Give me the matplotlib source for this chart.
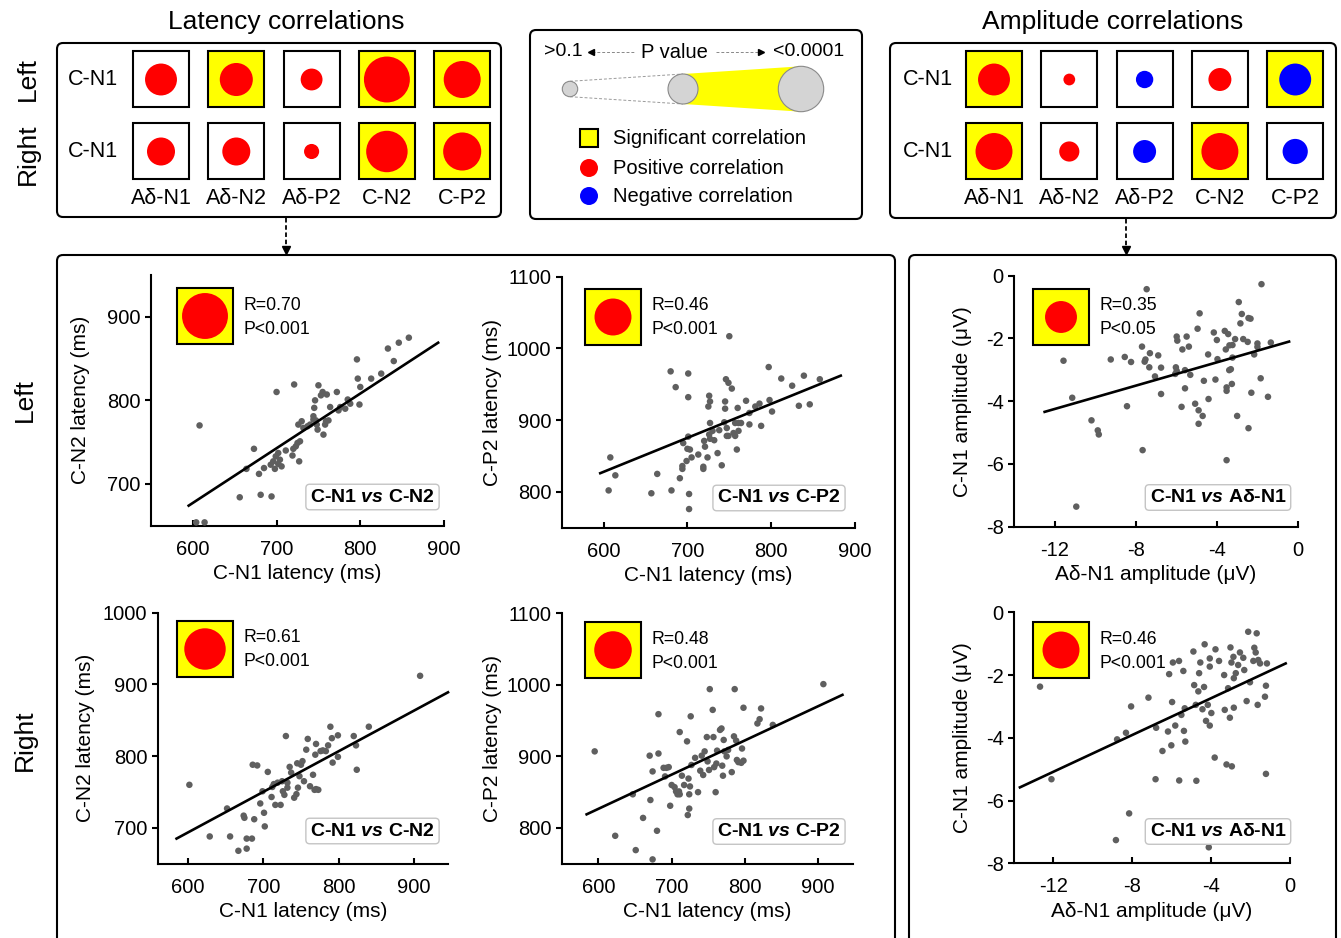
import numpy as np
import matplotlib
matplotlib.use('Agg')
import matplotlib.pyplot as plt
from matplotlib.patches import FancyBboxPatch, Rectangle, Circle, Polygon

plt.rcParams['font.family'] = ['Liberation Sans', 'DejaVu Sans']
plt.rcParams['mathtext.fontset'] = 'custom'
plt.rcParams['mathtext.it'] = 'Liberation Sans:italic:bold'
plt.rcParams['mathtext.rm'] = 'Liberation Sans:bold'
plt.rcParams['mathtext.bf'] = 'Liberation Sans:bold'
plt.rcParams['axes.unicode_minus'] = False

# ---------------- summary matrices (circle size ~ significance, relative to square) --------
components = ['Aδ-N1', 'Aδ-N2', 'Aδ-P2', 'C-N2', 'C-P2']
row_labels = ['C-N1', 'C-N1']
side_labels = ['Left', 'Right']
lat_size = [[0.57, 0.59, 0.39, 0.82, 0.66],
            [0.50, 0.50, 0.27, 0.74, 0.68]]
lat_sig = [[0, 1, 0, 1, 1],
           [0, 0, 0, 1, 1]]
lat_sign = [[1, 1, 1, 1, 1],
            [1, 1, 1, 1, 1]]
amp_size = [[0.57, 0.21, 0.31, 0.41, 0.57],
            [0.66, 0.36, 0.41, 0.66, 0.45]]
amp_sig = [[1, 0, 0, 0, 1],
           [1, 0, 0, 1, 0]]
amp_sign = [[1, 1, -1, 1, -1],
            [1, 1, -1, 1, -1]]

# ---------------- scatter data ----------------
# Left: C-N1 vs C-N2 latency
l_n2_x = [608, 604, 614, 656, 681, 694, 664, 673, 679, 685, 700, 721, 693, 696, 699, 702, 704, 706, 698, 702,
          711, 719, 720, 723, 725, 728, 727, 726, 730, 732, 737, 740, 744, 745, 746, 744, 747, 748, 749, 750,
          753, 755, 756, 758, 759, 760, 762, 764, 772, 774, 776, 782, 785, 788, 796, 797, 799, 800, 813, 825,
          833, 840, 846, 858]
l_n2_y = [770, 654, 654, 684, 687, 685, 718, 742, 712, 719, 810, 819, 723, 727, 733, 724, 729, 721, 718, 737,
          740, 734, 742, 745, 749, 751, 727, 771, 775, 767, 769, 771, 781, 791, 800, 777, 776, 771, 765, 818,
          806, 810, 759, 771, 775, 807, 776, 792, 810, 788, 792, 790, 801, 796, 849, 826, 795, 816, 826, 832,
          862, 847, 869, 875]
# Left: C-N1 vs C-P2 latency
l_p2_x = [608, 614, 606, 657, 664, 681, 691, 680, 686, 701, 701, 702, 702, 695, 694, 694, 701, 700, 703, 699,
          705, 713, 720, 721, 719, 719, 724, 725, 726, 727, 727, 726, 727, 730, 732, 736, 741, 738, 745, 745,
          744, 746, 749, 753, 750, 747, 747, 749, 755, 757, 757, 760, 761, 759, 761, 764, 770, 774, 774, 781,
          786, 788, 798, 797, 801, 812, 825, 833, 839, 846, 858]
l_p2_y = [848, 823, 802, 798, 825, 802, 819, 968, 946, 965, 932, 797, 776, 868, 836, 832, 877, 860, 859, 843,
          848, 852, 871, 863, 835, 832, 848, 919, 934, 926, 896, 880, 874, 885, 872, 854, 837, 886, 926, 916,
          897, 957, 952, 944, 1017, 889, 878, 878, 882, 878, 896, 917, 885, 859, 896, 896, 927, 894, 910, 919,
          923, 892, 928, 974, 912, 958, 948, 920, 962, 922, 957]
# Left: Ad-N1 vs C-N1 amplitude
l_amp_x = [-11.56, -11.13, -10.93, -10.18, -9.87, -9.82, -9.23, -8.54, -8.43, -8.23, -7.69, -7.46, -7.52, -7.56,
           -7.66, -7.33, -7.30, -7.05, -6.89, -6.75, -6.75, -5.98, -5.95, -6.02, -5.98, -6.05, -5.74, -5.70,
           -5.57, -5.49, -5.38, -5.31, -5.57, -5.07, -4.95, -4.85, -4.90, -4.90, -4.70, -4.64, -4.43, -4.41,
           -4.15, -4.07, -4.00, -3.97, -3.61, -3.56, -3.52, -3.52, -3.52, -3.44, -3.38, -3.39, -3.31, -3.26,
           -3.23, -3.23, -3.10, -3.00, -2.92, -2.84, -2.77, -2.70, -2.44, -2.48, -2.44, -2.34, -2.30, -2.16,
           -2.00, -2.00, -1.84, -1.80, -1.48, -1.34]
l_amp_y = [-2.71, -3.89, -7.36, -4.61, -4.93, -5.06, -2.67, -2.59, -4.16, -2.75, -2.26, -0.43, -2.67, -2.74,
           -5.56, -2.92, -2.47, -3.21, -2.54, -2.93, -3.77, -1.94, -2.07, -2.92, -3.03, -3.13, -4.18, -2.35,
           -3.59, -1.94, -2.26, -3.16, -3.01, -4.08, -1.69, -1.20, -4.29, -4.72, -4.47, -3.35, -2.51, -3.93,
           -1.81, -3.31, -2.05, -2.66, -1.76, -2.35, -3.56, -3.67, -5.88, -1.86, -2.22, -3.01, -2.98, -3.45,
           -2.21, -2.61, -2.02, -4.47, -0.84, -1.52, -1.22, -2.02, -1.35, -2.11, -4.86, -1.37, -3.73, -2.51,
           -2.27, -2.16, -3.27, -0.27, -3.86, -2.13]
# Right: C-N1 vs C-N2 latency
r_n2_x = [602, 629, 652, 656, 667, 678, 678, 685, 674, 675, 688, 686, 692, 696, 699, 701, 702, 706, 711, 712,
          714, 716, 719, 723, 725, 726, 728, 730, 732, 732, 735, 737, 741, 744, 745, 746, 748, 750, 752, 754,
          757, 759, 762, 766, 768, 770, 773, 769, 770, 776, 779, 783, 786, 789, 791, 792, 799, 799, 820, 823,
          824, 840, 908]
r_n2_y = [760, 688, 727, 688, 668, 671, 685, 685, 717, 714, 712, 788, 787, 734, 751, 721, 702, 778, 743, 757,
          761, 732, 763, 732, 765, 751, 746, 828, 756, 763, 785, 777, 742, 747, 790, 756, 772, 788, 793, 765,
          809, 824, 758, 774, 753, 754, 753, 802, 817, 807, 808, 807, 815, 841, 825, 791, 829, 799, 828, 815,
          781, 841, 912]
# Right: C-N1 vs C-P2 latency
r_p2_x = [595, 623, 647, 651, 661, 670, 671, 674, 674, 680, 682, 682, 689, 691, 693, 696, 698, 700, 704, 706,
          708, 710, 711, 711, 714, 717, 721, 722, 724, 723, 724, 725, 726, 727, 732, 736, 739, 741, 743, 745,
          748, 749, 751, 752, 756, 757, 758, 760, 761, 762, 766, 768, 769, 770, 771, 772, 775, 777, 782, 785,
          786, 788, 789, 791, 795, 796, 798, 798, 817, 820, 822, 838, 907]
r_p2_y = [907, 789, 847, 769, 814, 901, 839, 756, 879, 796, 959, 904, 884, 872, 884, 885, 831, 860, 857, 851,
          847, 851, 847, 934, 873, 860, 921, 818, 827, 869, 847, 858, 956, 888, 898, 850, 880, 901, 874, 907,
          927, 893, 881, 994, 965, 927, 885, 850, 890, 908, 937, 939, 887, 873, 923, 907, 900, 909, 878, 928,
          994, 922, 895, 892, 891, 911, 894, 968, 946, 952, 967, 944, 1001]
# Right: Ad-N1 vs C-N1 amplitude
r_amp_x = [-12.68, -12.10, -8.83, -8.77, -8.32, -8.16, -8.06, -7.18, -6.79, -6.82, -6.47, -6.19, -6.13, -6.02,
           -5.98, -5.94, -5.82, -5.63, -5.62, -5.51, -5.41, -5.38, -5.31, -5.34, -4.90, -4.86, -4.78, -4.75,
           -4.65, -4.61, -4.55, -4.44, -4.36, -4.33, -4.26, -4.17, -4.07, -4.07, -4.07, -3.99, -3.82, -3.78,
           -3.60, -3.34, -3.31, -3.22, -3.14, -3.05, -3.02, -2.97, -2.95, -2.87, -2.85, -2.85, -2.75, -2.63,
           -2.54, -2.37, -2.32, -2.20, -2.12, -2.03, -1.86, -1.81, -1.74, -1.69, -1.64, -1.61, -1.52, -1.27,
           -1.22, -1.17, -1.22, -4.12]
r_amp_y = [-2.37, -5.32, -7.26, -4.05, -3.84, -6.41, -3.00, -2.72, -3.68, -5.32, -4.42, -3.80, -1.97, -4.24,
           -2.86, -1.60, -3.61, -1.55, -5.36, -3.27, -1.87, -3.78, -4.12, -3.06, -1.25, -2.32, -2.95, -5.37,
           -2.52, -1.94, -1.60, -3.09, -2.38, -1.02, -3.46, -2.95, -3.61, -1.73, -1.47, -3.21, -4.63, -1.18,
           -1.55, -2.00, -3.11, -4.85, -2.42, -3.36, -1.12, -1.60, -4.91, -1.42, -3.04, -2.10, -1.94, -1.68,
           -1.28, -1.45, -1.84, -2.83, -0.62, -2.23, -1.55, -1.13, -1.28, -0.67, -2.95, -1.52, -1.63, -2.69,
           -2.34, -1.63, -5.15, -7.49]

# regression lines (x0, y0, x1, y1)
fit_l_n2 = [595, 674, 893, 869]
fit_l_p2 = [596, 826, 883, 962]
fit_l_amp = [-12.49, -4.34, -0.44, -2.10]
fit_r_n2 = [585, 685, 945, 889]
fit_r_p2 = [584, 819, 933, 986]
fit_r_amp = [-13.70, -5.58, -0.22, -1.63]

r_values = ['R=0.70', 'R=0.46', 'R=0.35', 'R=0.61', 'R=0.48', 'R=0.46']
p_values = ['P<0.001', 'P<0.001', 'P<0.05', 'P<0.001', 'P<0.001', 'P<0.001']
inset_size = [0.82, 0.66, 0.57, 0.74, 0.67, 0.66]
pair_labels = [r'C-N1 $vs$ C-N2', r'C-N1 $vs$ C-P2', r'C-N1 $vs$ Aδ-N1',
               r'C-N1 $vs$ C-N2', r'C-N1 $vs$ C-P2', r'C-N1 $vs$ Aδ-N1']

# ---------------- figure ----------------
W, H = 1341, 938
fig = plt.figure(figsize=(W / 100, H / 100), dpi=100)
fig.patch.set_facecolor('white')

RED = '#ff0000'
BLUE = '#0000ff'
YEL = '#ffff00'
GRAY = '#5f5f5f'


def px_axes(x0, y0, x1, y1):
    return fig.add_axes([x0 / W, 1 - y1 / H, (x1 - x0) / W, (y1 - y0) / H])


panels = [
    dict(rect=(151, 275, 444, 525.7), xlim=(550, 900), ylim=(650, 950),
         xt=[600, 700, 800, 900], yt=[700, 800, 900], x=l_n2_x, y=l_n2_y, fit=fit_l_n2,
         xl='C-N1 latency (ms)', yl='C-N2 latency (ms)', ylx=81, inset=(177, 288), lab=(372.5, 497)),
    dict(rect=(561.7, 276.7, 855, 527.7), xlim=(550, 900), ylim=(750, 1100),
         xt=[600, 700, 800, 900], yt=[800, 900, 1000, 1100], x=l_p2_x, y=l_p2_y, fit=fit_l_p2,
         xl='C-N1 latency (ms)', yl='C-P2 latency (ms)', ylx=493, inset=(585, 289), lab=(779, 498)),
    dict(rect=(1014, 275.7, 1298, 526.7), xlim=(-14, 0), ylim=(-8, 0),
         xt=[-12, -8, -4, 0], yt=[-8, -6, -4, -2, 0], x=l_amp_x, y=l_amp_y, fit=fit_l_amp,
         xl='Aδ-N1 amplitude (μV)', yl='C-N1 amplitude (μV)', ylx=963, inset=(1033, 289), lab=(1218, 497.5)),
    dict(rect=(157.7, 612.7, 448, 863.7), xlim=(560, 945), ylim=(650, 1000),
         xt=[600, 700, 800, 900], yt=[700, 800, 900, 1000], x=r_n2_x, y=r_n2_y, fit=fit_r_n2,
         xl='C-N1 latency (ms)', yl='C-N2 latency (ms)', ylx=86, inset=(177, 621), lab=(372.5, 831)),
    dict(rect=(561.7, 613.3, 852.7, 863.7), xlim=(550, 947), ylim=(750, 1100),
         xt=[600, 700, 800, 900], yt=[800, 900, 1000, 1100], x=r_p2_x, y=r_p2_y, fit=fit_r_p2,
         xl='C-N1 latency (ms)', yl='C-P2 latency (ms)', ylx=493, inset=(585, 622), lab=(779, 831.5)),
    dict(rect=(1014, 612.3, 1290, 863.3), xlim=(-14, 0), ylim=(-8, 0),
         xt=[-12, -8, -4, 0], yt=[-8, -6, -4, -2, 0], x=r_amp_x, y=r_amp_y, fit=fit_r_amp,
         xl='Aδ-N1 amplitude (μV)', yl='C-N1 amplitude (μV)', ylx=963, inset=(1033, 622), lab=(1218, 831.5)),
]

for i, p in enumerate(panels):
    ax = px_axes(*p['rect'])
    ax.set_facecolor('none')
    ax.scatter(p['x'], p['y'], s=22, color=GRAY, edgecolors='none', zorder=3, clip_on=False)
    f = p['fit']
    ax.plot([f[0], f[2]], [f[1], f[3]], color='black', lw=1.9, zorder=4, clip_on=False)
    ax.set_xlim(*p['xlim'])
    ax.set_ylim(*p['ylim'])
    ax.set_xticks(p['xt'])
    ax.set_yticks(p['yt'])
    for s in ['top', 'right']:
        ax.spines[s].set_visible(False)
    for s in ['left', 'bottom']:
        ax.spines[s].set_linewidth(1.5)
    ax.tick_params(axis='x', direction='in', length=4.5, width=1.5, labelsize=14.5, pad=10)
    ax.tick_params(axis='y', direction='out', length=4.5, width=1.5, labelsize=14.5, pad=3)
    ax.set_xlabel(p['xl'], fontsize=15, labelpad=4)
    ax.set_ylabel('')

# ---------------- overlay canvas ----------------
cv = fig.add_axes([0, 0, 1, 1])
cv.set_xlim(0, W)
cv.set_ylim(H, 0)
cv.set_facecolor('none')
cv.axis('off')


def rbox(x0, y0, x1, y1, lw=1.5, ec='black', fc='none', r=6, z=1):
    cv.add_patch(FancyBboxPatch((x0, y0), x1 - x0, y1 - y0,
                                boxstyle='round,pad=0,rounding_size=%g' % r,
                                lw=lw, ec=ec, fc=fc, zorder=z))


# top boxes
rbox(57, 43, 501, 217)
rbox(530, 30, 862, 219)
rbox(890, 43, 1336, 218)
# bottom boxes
rbox(57, 255, 895, 990)
rbox(909, 255, 1336, 990)

cv.text(286, 22, 'Latency correlations', fontsize=19, ha='center', va='center')
cv.text(1113, 22, 'Amplitude correlations', fontsize=19, ha='center', va='center')

cv.text(28, 79, 'Left', fontsize=19, rotation=90, ha='center', va='center')
cv.text(28, 154, 'Right', fontsize=19, rotation=90, ha='center', va='center')
cv.text(25, 400, 'Left', fontsize=19, rotation=90, ha='center', va='center')
cv.text(25, 740, 'Right', fontsize=19, rotation=90, ha='center', va='center')

SQ = 56
row_y = [79.5, 151.5]


def matrix(x_first, sizes, sigs, signs, label_x):
    for r in range(2):
        cv.text(label_x, row_y[r], row_labels[r], fontsize=15.5, ha='center', va='center')
        for c in range(len(components)):
            cx = x_first + 75.3 * c
            cy = row_y[r]
            cv.add_patch(Rectangle((cx - SQ / 2, cy - SQ / 2), SQ, SQ, lw=1.5, ec='black',
                                   fc=YEL if sigs[r][c] else 'white', zorder=2))
            cv.add_patch(Circle((cx, cy), sizes[r][c] * SQ / 2,
                                fc=RED if signs[r][c] > 0 else BLUE, ec='none', zorder=3))
    for c, name in enumerate(components):
        cv.text(x_first + 75.3 * c, 198, name, fontsize=15.5, ha='center', va='center')


matrix(161, lat_size, lat_sig, lat_sign, 93)
matrix(994, amp_size, amp_sig, amp_sign, 928)

# legend box contents
cv.text(563, 52, '>0.1', fontsize=14, ha='center', va='center')
cv.text(674, 52, 'P value', fontsize=14.5, ha='center', va='center')
cv.text(809, 52, '<0.0001', fontsize=14, ha='center', va='center')
cv.plot([592, 634], [52, 52], color='#888888', lw=0.7, ls=(0, (3, 2)))
cv.plot([716, 760], [52, 52], color='#888888', lw=0.7, ls=(0, (3, 2)))
cv.plot([591], [52], marker='<', ms=4, color='black')
cv.plot([761], [52], marker='>', ms=4, color='black')

cs = [(570, 89, 7.7), (683, 89, 15), (801, 89, 22.7)]
cv.add_patch(Polygon([(683, 74), (801, 66.3), (801, 111.7), (683, 104)], closed=True,
                     fc=YEL, ec='none', zorder=2))
cv.plot([570, 683], [81.3, 74], color='#9a9a9a', lw=0.7, ls=(0, (3, 2)), zorder=2)
cv.plot([570, 683], [96.7, 104], color='#9a9a9a', lw=0.7, ls=(0, (3, 2)), zorder=2)
for (x, y, r) in cs:
    cv.add_patch(Circle((x, y), r, fc='#d4d4d4', ec='#8a8a8a', lw=0.8, zorder=3))

cv.add_patch(Rectangle((580, 129), 18, 18, fc=YEL, ec='black', lw=1.5, zorder=3))
cv.add_patch(Circle((589, 168), 9, fc=RED, ec='none', zorder=3))
cv.add_patch(Circle((589, 196), 9, fc=BLUE, ec='none', zorder=3))
cv.text(613, 138, 'Significant correlation', fontsize=14.5, ha='left', va='center')
cv.text(613, 168, 'Positive correlation', fontsize=14.5, ha='left', va='center')
cv.text(613, 196, 'Negative correlation', fontsize=14.5, ha='left', va='center')

# dashed connectors
for x, y0 in [(286, 218), (1126, 219)]:
    cv.plot([x, x], [y0, 247], color='black', lw=1.3, ls=(0, (2.5, 1.5)))
    cv.plot([x], [250], marker='v', ms=6, color='black')

# insets, labels, y-axis titles
for i, p in enumerate(panels):
    sx, sy = p['inset']
    cv.add_patch(Rectangle((sx, sy), SQ, SQ, fc=YEL, ec='black', lw=1.5, zorder=5))
    cv.add_patch(Circle((sx + SQ / 2, sy + SQ / 2), inset_size[i] * SQ / 2, fc=RED, ec='none', zorder=6))
    cv.text(sx + 67, sy + 17, r_values[i], fontsize=12.7, ha='left', va='center', zorder=6)
    cv.text(sx + 67, sy + 41, p_values[i], fontsize=12.7, ha='left', va='center', zorder=6)
    lx, ly = p['lab']
    cv.text(lx, ly, pair_labels[i], fontsize=14, fontweight='bold', ha='center', va='center', zorder=7,
            bbox=dict(boxstyle='round,pad=0.22,rounding_size=0.2', fc='white', ec='#c4c4c4', lw=1))
    x0, y0, x1, y1 = p['rect']
    cv.text(p['ylx'], (y0 + y1) / 2, p['yl'], fontsize=15, rotation=90, ha='center', va='center')

fig.savefig('out.png', dpi=100, facecolor='white')
